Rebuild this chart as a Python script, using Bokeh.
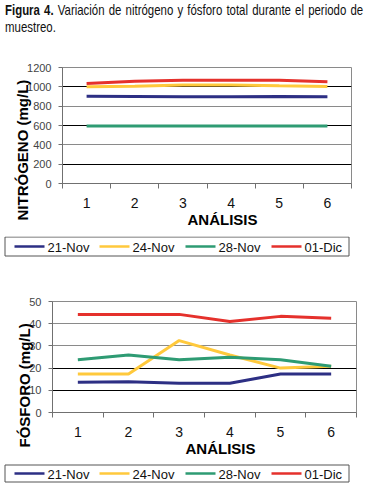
from bokeh.plotting import figure
from bokeh.models import FixedTicker, Grid, Range1d, Div, Title
from bokeh.core.properties import value
from bokeh.layouts import column
from bokeh.embed import file_html
from bokeh.resources import INLINE

# ---- data ----
analisis = [1, 2, 3, 4, 5, 6]
series_names = ["21-Nov", "24-Nov", "28-Nov", "01-Dic"]
series_colors = ["#2D2F84", "#FFC93C", "#2E9B73", "#E5312C"]

nitro_21nov = [903, 900, 897, 897, 900, 897]
nitro_24nov = [1000, 1005, 1020, 1020, 1010, 1003]
nitro_28nov = [595, 595, 595, 595, 595, 595]
nitro_01dic = [1035, 1058, 1068, 1068, 1068, 1052]

fosf_21nov = [13.6, 13.9, 13.2, 13.2, 17.3, 17.3]
fosf_24nov = [17.3, 17.3, 32.4, 25.9, 20.0, 20.8]
fosf_28nov = [23.8, 25.9, 23.8, 24.9, 23.8, 20.8]
fosf_01dic = [44.2, 44.2, 44.2, 41.0, 43.3, 42.5]

nitro_ticks = [0, 200, 400, 600, 800, 1000, 1200]
nitro_dark = [200, 600, 1000]
fosf_ticks = [0, 10, 20, 30, 40, 50]
fosf_dark = [10, 20]

FONT = "Liberation Sans"
W = 358


def make_chart(series, ticks, dark, ymax, height, mb, ytitle, yt_off, xt_off):
    p = figure(width=W, height=height, x_range=Range1d(0.5, 6.5), y_range=Range1d(0, ymax),
               output_backend="svg", toolbar_location=None, frame_align=False,
               min_border_left=mb[0], min_border_right=mb[1], min_border_top=mb[2], min_border_bottom=mb[3])
    p.outline_line_color = "#8a8a8a"
    p.border_fill_color = "white"

    xa = p.xaxis[0]
    xa.ticker = FixedTicker(ticks=analisis, minor_ticks=[0.5, 1.5, 2.5, 3.5, 4.5, 5.5, 6.5])
    xa.major_tick_line_color = None
    xa.major_tick_out = 5
    xa.major_tick_in = 0
    xa.minor_tick_out = 5
    xa.minor_tick_in = 0
    xa.minor_tick_line_color = "#707070"
    xa.axis_line_color = "#707070"
    xa.major_label_standoff = 9
    xa.major_label_text_font = FONT
    xa.major_label_text_font_size = "14px"
    xa.major_label_text_color = "#111111"

    ya = p.yaxis[0]
    ya.ticker = FixedTicker(ticks=ticks)
    ya.minor_tick_line_color = None
    ya.major_tick_out = 4
    ya.major_tick_in = 0
    ya.major_tick_line_color = "#707070"
    ya.axis_line_color = "#707070"
    ya.major_label_standoff = 7
    ya.major_label_text_font = FONT
    ya.major_label_text_font_size = "11px"
    ya.major_label_text_color = "#444444"

    p.xgrid.visible = False
    p.ygrid.ticker = FixedTicker(ticks=ticks)
    p.ygrid.grid_line_color = "#8a8a8a"
    p.add_layout(Grid(dimension=1, ticker=FixedTicker(ticks=dark), grid_line_color="black", grid_line_width=1))

    for color, vals in zip(series_colors, series):
        p.line(analisis, vals, line_color=color, line_width=3)

    p.add_layout(Title(text=ytitle, align="left", offset=yt_off, standoff=-12, text_font=FONT,
                       text_font_size="15px", text_font_style="bold", text_color="black"), "left")
    p.add_layout(Title(text="ANÁLISIS", align="left", offset=xt_off, standoff=-4, text_font=FONT,
                       text_font_size="15px", text_font_style="bold", text_color="black"), "below")
    return p


# legend strip: ranges in page pixels (x from the left, y from the top)
key_x = [22, 107, 193, 279]
KEY_W = 30
LABEL_GAP = 3


def make_legend(page_top, page_bottom, box_top, box_bottom):
    q = figure(width=W, height=page_bottom - page_top, x_range=Range1d(8, 8 + W),
               y_range=Range1d(page_bottom, page_top), title=None, frame_align=False,
               output_backend="svg", toolbar_location=None,
               x_axis_location=None, y_axis_location=None,
               min_border=0, min_border_left=0, min_border_right=0, min_border_top=0, min_border_bottom=0)
    q.outline_line_color = None
    q.xgrid.visible = False
    q.ygrid.visible = False
    q.border_fill_color = "white"
    mid = (box_top + box_bottom) / 2
    q.quad(left=12.5, right=356.5, top=box_top, bottom=box_bottom,
           fill_color="white", line_color="#555555", line_width=1)
    q.segment(x0=key_x, y0=[mid] * 4, x1=[k + KEY_W for k in key_x], y1=[mid] * 4,
              line_color=series_colors, line_width=2.5)
    q.text(x=[k + KEY_W + LABEL_GAP for k in key_x], y=[mid + 0.5] * 4, text=series_names,
           text_font=value(FONT), text_font_size="13px", text_baseline="middle", text_color="#111111")
    return q


title = Div(text='<div style="font-family:\'Liberation Sans\',Arial,sans-serif;'
                 'font-size:15px;line-height:16.5px;text-align:justify;color:#111;'
                 'margin-top:-3px;width:470px;transform:scale(0.762,1);transform-origin:0 0;">'
                 '<b>Figura 4.</b> Variación de nitrógeno y fósforo total durante el periodo de muestreo.</div>',
            width=W, height=30)

nitro = [nitro_21nov, nitro_24nov, nitro_28nov, nitro_01dic]
fosf = [fosf_21nov, fosf_24nov, fosf_28nov, fosf_01dic]

p1 = make_chart(nitro, nitro_ticks, nitro_dark, 1200, 196, (62, 7, 27, 53), "NITRÓGENO (mg/L)", -37, 125)
leg1 = make_legend(234, 258, 234.5, 253.5)
p2 = make_chart(fosf, fosf_ticks, fosf_dark, 50, 203, (52, 2, 41, 51), "FÓSFORO (mg/L)", -35, 133)
leg2 = make_legend(461, 481, 462.5, 479.5)

layout = column(title, p1, leg1, p2, leg2, spacing=0)
open("out.html", "w").write(file_html(layout, INLINE))
